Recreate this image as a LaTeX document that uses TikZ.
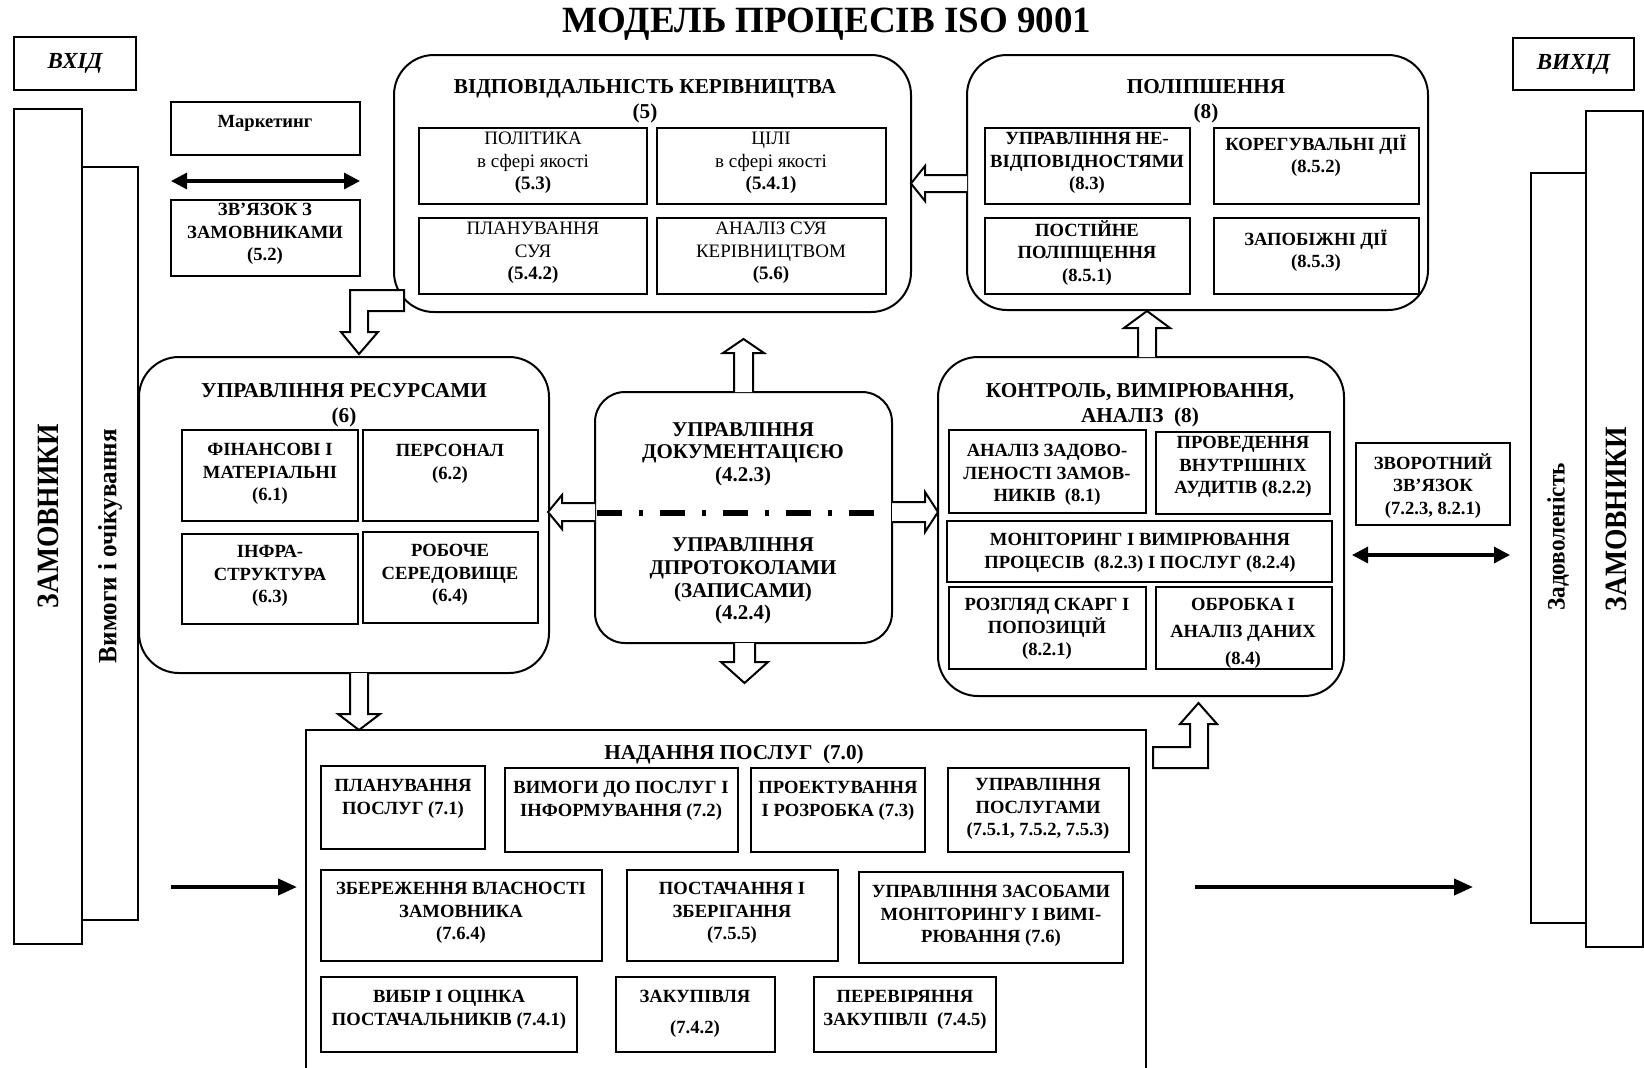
\documentclass[tikz,border=0pt]{standalone}
\usepackage{graphicx}
\usepackage{fontspec}
\setmainfont{Liberation Serif}
\usetikzlibrary{arrows.meta}
\newcommand\boxat[6][]{%
  \pgfmathsetmacro\bxw{(#5-#3)*0.5}%
  \pgfmathsetmacro\bxh{(#6-#4)*0.5}%
  \node[inner sep=0pt,outer sep=0pt,minimum width=\bxw pt,minimum height=\bxh pt,#1] (#2) at ({(#3+#5)/2},{(#4+#6)/2}) {};}
\begin{document}
\begin{tikzpicture}[x=0.5pt,y=-0.5pt,
 obox/.style={draw,line width=1.1pt},
 ibox/.style={draw,line width=1.3pt},
 rbox/.style={draw,line width=1pt,rounded corners=20pt},
 tb/.style={font=\fontsize{9.3}{11.2}\selectfont\bfseries,align=center,inner sep=0pt},
 tr/.style={font=\fontsize{9.5}{11.3}\selectfont,align=center,inner sep=0pt},
 ttl/.style={font=\fontsize{10.6}{12.5}\selectfont\bfseries,align=center,inner sep=0pt},
 ctext/.style={font=\fontsize{10.5}{11.3}\selectfont\bfseries,align=center,inner sep=0pt},
 vtext/.style={rotate=90,inner sep=0pt},
 harrow/.style={draw,line width=1pt,fill=white,line join=miter},
 darrow/.style={line width=1.6pt,{Triangle[length=8pt,width=8pt]}-{Triangle[length=8pt,width=8pt]}},
 bigarrow/.style={line width=2pt,-{Triangle[length=9.5pt,width=8pt]}},
 ddline/.style={line width=2.6pt,dash pattern=on 12.5pt off 8.5pt on 2pt off 8.5pt}
]
\fill[white] (0,0) rectangle (1644,1067);
\useasboundingbox (0,0) rectangle (1644,1067);

% title
\node[font=\fontsize{18.5}{22}\selectfont\bfseries,inner sep=0pt] (title) at (827,24) {МОДЕЛЬ ПРОЦЕСІВ ISO 9001};

% input / output
\boxat[obox]{inb}{14}{37}{136}{90}
\node[font=\fontsize{11.5}{13}\selectfont\bfseries\itshape] (inbt) at (inb) {ВХІД};
\boxat[obox]{outb}{1513}{38}{1634}{90}
\node[font=\fontsize{11.5}{13}\selectfont\bfseries\itshape] (outbt) at (outb) {ВИХІД};

% side columns
\boxat[obox]{custL}{14}{109}{82}{944}
\boxat[obox]{reqL}{82}{167}{138}{920}
\boxat[obox]{custR}{1586}{111}{1643}{947}
\boxat[obox]{satR}{1531}{173}{1586}{923}
\node[vtext,font=\fontsize{15.5}{18}\selectfont\bfseries] (custLt) at (48,516) {\scalebox{0.89}[1]{ЗАМОВНИКИ}};
\node[vtext,font=\fontsize{13.2}{15}\selectfont\bfseries] (reqLt) at (110,546) {\scalebox{0.95}[1]{Вимоги і очікування}};
\node[vtext,font=\fontsize{12.5}{14}\selectfont\bfseries] (satRt) at (1558,537) {\scalebox{0.93}[1]{Задоволеність}};
\node[vtext,font=\fontsize{15.5}{18}\selectfont\bfseries] (custRt) at (1616,519) {\scalebox{0.89}[1]{ЗАМОВНИКИ}};

% marketing
\boxat[obox]{mkt}{171}{102}{360}{155}
\node[tb] (mktt) at (265,123) {Маркетинг};
\boxat[obox]{crel}{171}{200}{360}{276}
\node[tb] (crelt) at (265,234) {ЗВ'ЯЗОК З\\ЗАМОВНИКАМИ\\(5.2)};
\coordinate (mA) at (171,181);
\coordinate (mB) at (360,181);
\draw[darrow] (mA) -- (mB);

% management responsibility
\boxat[rbox]{mgmt}{394}{55}{911}{312}
\node[ttl] (mgmtt) at (645,101) {ВІДПОВІДАЛЬНІСТЬ КЕРІВНИЦТВА\\(5)};
\boxat[ibox]{pol}{419}{128}{647}{204}
\node[tr] (polt) at (533,163) {ПОЛІТИКА\\в сфері якості\\\textbf{(5.3)}};
\boxat[ibox]{goal}{657}{128}{886}{204}
\node[tr] (goalt) at (771,163) {ЦІЛІ\\в сфері якості\\\textbf{(5.4.1)}};
\boxat[ibox]{plan}{419}{218}{647}{294}
\node[tr] (plant) at (533,253) {ПЛАНУВАННЯ\\СУЯ\\\textbf{(5.4.2)}};
\boxat[ibox]{rev}{657}{218}{886}{294}
\node[tr] (revt) at (771,253) {АНАЛІЗ СУЯ\\КЕРІВНИЦТВОМ\\\textbf{(5.6)}};

% improvement
\boxat[rbox]{impr}{967}{55}{1428}{310}
\node[ttl] (imprt) at (1206,101) {ПОЛІПШЕННЯ\\(8)};
\boxat[ibox]{nc}{985}{128}{1190}{204}
\node[tb] (nct) at (1087,163) {УПРАВЛІННЯ НЕ-\\ВІДПОВІДНОСТЯМИ\\(8.3)};
\boxat[ibox]{ca}{1214}{128}{1419}{204}
\node[tb] (cat) at (1316,156) {КОРЕГУВАЛЬНІ ДІЇ\\(8.5.2)};
\boxat[ibox]{ci}{985}{218}{1190}{294}
\node[tb] (cit) at (1087,253) {ПОСТІЙНЕ\\ПОЛІПЩЕННЯ\\(8.5.1)};
\boxat[ibox]{pa}{1214}{218}{1419}{294}
\node[tb] (pat) at (1316,251) {ЗАПОБІЖНІ ДІЇ\\(8.5.3)};

% resources
\boxat[rbox]{res}{139}{357}{549}{673}
\node[ttl] (rest) at (344,405) {УПРАВЛІННЯ РЕСУРСАМИ\\(6)};
\boxat[ibox]{fin}{182}{430}{358}{521}
\node[tb] (fint) at (270,474) {ФІНАНСОВІ І\\МАТЕРІАЛЬНІ\\(6.1)};
\boxat[ibox]{pers}{363}{430}{538}{521}
\node[tb] (perst) at (450,464) {ПЕРСОНАЛ\\(6.2)};
\boxat[ibox]{infra}{182}{534}{358}{624}
\node[tb] (infrat) at (270,576) {ІНФРА-\\СТРУКТУРА\\(6.3)};
\boxat[ibox]{env}{363}{532}{538}{623}
\node[tb] (envt) at (450,575) {РОБОЧЕ\\СЕРЕДОВИЩЕ\\(6.4)};

% documentation
\boxat[rbox,rounded corners=15pt]{doc}{595}{392}{892}{643}
\node[ctext] (doct1) at (743,454) {УПРАВЛІННЯ\\ДОКУМЕНТАЦІЄЮ\\(4.2.3)};
\node[ctext] (doct2) at (743,581) {УПРАВЛІННЯ\\ДПРОТОКОЛАМИ\\(ЗАПИСАМИ)\\(4.2.4)};
\coordinate (ddA) at (597,513);
\coordinate (ddB) at (889,513);
\draw[ddline] (ddA) -- (ddB);

% control
\boxat[rbox]{ctl}{938}{357}{1344}{696}
\node[ttl] (ctlt) at (1140,405) {КОНТРОЛЬ, ВИМІРЮВАННЯ,\\АНАЛІЗ\ \ (8)};
\boxat[ibox]{sat}{949}{430}{1146}{513}
\node[tb] (satt) at (1047,475) {АНАЛІЗ ЗАДОВО-\\ЛЕНОСТІ ЗАМОВ-\\НИКІВ\ \ (8.1)};
\boxat[ibox]{aud}{1156}{432}{1330}{514}
\node[tb] (audt) at (1243,467) {ПРОВЕДЕННЯ\\ВНУТРІШНІХ\\АУДИТІВ (8.2.2)};
\boxat[ibox]{mon}{947}{521}{1332}{582}
\node[tb] (mont) at (1140,553) {МОНІТОРИНГ І ВИМІРЮВАННЯ\\ПРОЦЕСІВ\ \ (8.2.3) І ПОСЛУГ (8.2.4)};
\boxat[ibox]{cmp}{949}{587}{1146}{669}
\node[tb] (cmpt) at (1047,629) {РОЗГЛЯД СКАРГ І\\ПОПОЗИЦІЙ\\(8.2.1)};
\boxat[ibox]{dat}{1156}{587}{1332}{669}
\node[tb,font=\fontsize{9.3}{13.5}\selectfont\bfseries] (datt) at (1243,633) {ОБРОБКА І\\АНАЛІЗ ДАНИХ\\(8.4)};

% feedback
\boxat[ibox]{fb}{1356}{443}{1510}{525}
\node[tb] (fbt) at (1433,486) {ЗВОРОТНИЙ\\ЗВ'ЯЗОК\\(7.2.3, 8.2.1)};
\coordinate (fA) at (1352,555);
\coordinate (fB) at (1510,555);
\draw[darrow] (fA) -- (fB);

% service realisation
\draw[line width=1.3pt] (306,1080) -- (306,730) -- (1146,730) -- (1146,1080);
\node[ttl] (svct) at (734,754) {НАДАННЯ ПОСЛУГ\ \ (7.0)};
\boxat[ibox]{s71}{321}{766}{485}{849}
\node[tb] (s71t) at (403,799) {ПЛАНУВАННЯ\\ПОСЛУГ (7.1)};
\boxat[ibox]{s72}{505}{768}{738}{852}
\node[tb] (s72t) at (621,801) {ВИМОГИ ДО ПОСЛУГ І\\ІНФОРМУВАННЯ (7.2)};
\boxat[ibox]{s73}{751}{768}{925}{852}
\node[tb] (s73t) at (838,801) {ПРОЕКТУВАННЯ\\І РОЗРОБКА (7.3)};
\boxat[ibox]{s75}{948}{768}{1129}{852}
\node[tb] (s75t) at (1038,809) {УПРАВЛІННЯ\\ПОСЛУГАМИ\\(7.5.1, 7.5.2, 7.5.3)};
\boxat[ibox]{s764}{321}{870}{602}{961}
\node[tb] (s764t) at (461,913) {ЗБЕРЕЖЕННЯ ВЛАСНОСТІ\\ЗАМОВНИКА\\(7.6.4)};
\boxat[ibox]{s755}{627}{870}{838}{961}
\node[tb] (s755t) at (732,913) {ПОСТАЧАННЯ І\\ЗБЕРІГАННЯ\\(7.5.5)};
\boxat[ibox]{s76}{859}{872}{1123}{963}
\node[tb] (s76t) at (991,916) {УПРАВЛІННЯ ЗАСОБАМИ\\МОНІТОРИНГУ І ВИМІ-\\РЮВАННЯ (7.6)};
\boxat[ibox]{s741}{321}{977}{577}{1052}
\node[tb] (s741t) at (449,1010) {ВИБІР І ОЦІНКА\\ПОСТАЧАЛЬНИКІВ (7.4.1)};
\boxat[ibox]{s742}{616}{977}{775}{1052}
\node[tb,font=\fontsize{9.3}{15.5}\selectfont\bfseries] (s742t) at (695,1014) {ЗАКУПІВЛЯ\\(7.4.2)};
\boxat[ibox]{s745}{814}{977}{996}{1052}
\node[tb] (s745t) at (905,1010) {ПЕРЕВІРЯННЯ\\ЗАКУПІВЛІ\ \ (7.4.5)};

% big flow arrows
\coordinate (inA) at (171,887);
\coordinate (inB) at (297,887);
\draw[bigarrow] (inA) -- (inB);
\coordinate (outA) at (1195,887);
\coordinate (outB) at (1473,887);
\draw[bigarrow] (outA) -- (outB);

% hollow block arrows
\draw[harrow] (967,175) -- (925,175) -- (925,166) -- (911,183.5) -- (925,201) -- (925,192) -- (967,192);
\draw[harrow] (404,290) -- (350,290) -- (350,332) -- (341,332) -- (359,354) -- (378,332) -- (368,332) -- (368,311) -- (404,311) -- cycle;
\draw[harrow] (734,392) -- (734,353) -- (723,353) -- (743.5,339) -- (764,353) -- (753,353) -- (753,392);
\draw[harrow] (734,643) -- (734,662) -- (721,662) -- (744.5,683) -- (768,662) -- (755,662) -- (755,643);
\draw[harrow] (595,503) -- (562,503) -- (562,495) -- (548,512) -- (562,529) -- (562,521) -- (595,521);
\draw[harrow] (892,502) -- (925,502) -- (925,492) -- (938,512) -- (925,532) -- (925,522) -- (892,522);
\draw[harrow] (350,673) -- (350,714) -- (338,714) -- (359,730) -- (380,714) -- (368,714) -- (368,673);
\draw[harrow] (1138,357) -- (1138,328) -- (1124,328) -- (1147,311) -- (1170,328) -- (1156,328) -- (1156,357);
\draw[harrow] (1153,747) -- (1190,747) -- (1190,724) -- (1180,724) -- (1198.5,703) -- (1217,724) -- (1208,724) -- (1208,768) -- (1153,768) -- cycle;
\end{tikzpicture}
\end{document}
